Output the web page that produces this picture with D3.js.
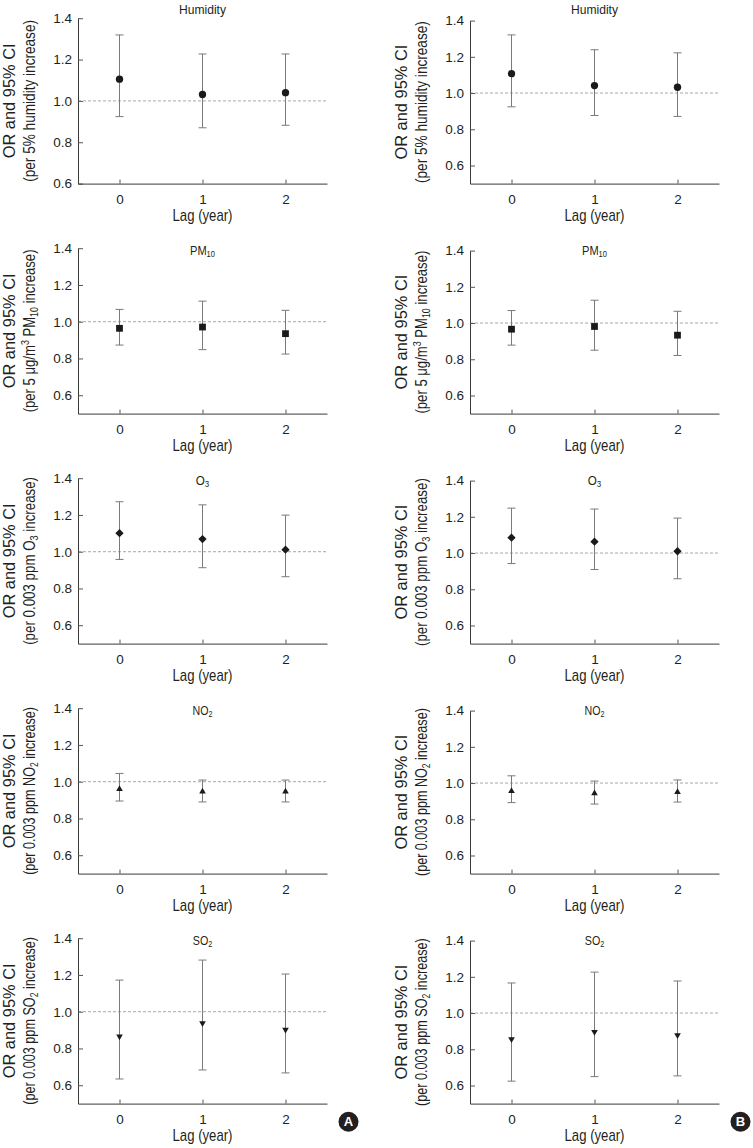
<!DOCTYPE html>
<html>
<head>
<meta charset="utf-8">
<script src="https://cdn.jsdelivr.net/npm/d3@7"></script>
<style>
  html, body { margin: 0; padding: 0; background: #fff; }
  svg { display: block; }
  text { font-family: "Liberation Sans", Arial, sans-serif; fill: #231f20; }
</style>
</head>
<body>
<svg id="chart" width="753" height="1148"></svg>
<script>
// ---------- data ----------
const lags = [0, 1, 2];
const tickValues = [0.6, 0.8, 1.0, 1.2, 1.4];
const xTickLabels = ["0", "1", "2"];
const xTitle = "Lag (year)";
const yTitleLine1 = "OR and 95% CI";
const panelLetters = ["A", "B"];

// titles: segments [text, kind] where kind = "n" normal, "sub", "sup"
const panelTitles = [
  [["Humidity", "n"]],
  [["PM", "n"], ["10", "sub"]],
  [["O", "n"], ["3", "sub"]],
  [["NO", "n"], ["2", "sub"]],
  [["SO", "n"], ["2", "sub"]]
];
const yTitleLine2 = [
  [["(per 5% humidity increase)", "n"]],
  [["(per 5 μg/m", "n"], ["3", "sup"], [" PM", "n"], ["10", "sub"], [" increase)", "n"]],
  [["(per 0.003 ppm O", "n"], ["3", "sub"], [" increase)", "n"]],
  [["(per 0.003 ppm NO", "n"], ["2", "sub"], [" increase)", "n"]],
  [["(per 0.003 ppm SO", "n"], ["2", "sub"], [" increase)", "n"]]
];

// Panel A
const orHumidityA = [1.105, 1.031, 1.040];
const loHumidityA = [0.924, 0.870, 0.882];
const hiHumidityA = [1.319, 1.227, 1.227];
const orPM10A = [0.964, 0.971, 0.935];
const loPM10A = [0.873, 0.848, 0.824];
const hiPM10A = [1.067, 1.112, 1.062];
const orO3A = [1.101, 1.069, 1.011];
const loO3A = [0.958, 0.913, 0.864];
const hiO3A = [1.272, 1.255, 1.199];
const orNO2A = [0.960, 0.946, 0.946];
const loNO2A = [0.895, 0.890, 0.890];
const hiNO2A = [1.045, 1.009, 1.009];
const orSO2A = [0.866, 0.938, 0.902];
const loSO2A = [0.634, 0.683, 0.667];
const hiSO2A = [1.172, 1.281, 1.205];

// Panel B
const orHumidityB = [1.107, 1.041, 1.032];
const loHumidityB = [0.924, 0.876, 0.871];
const hiHumidityB = [1.321, 1.239, 1.222];
const orPM10B = [0.966, 0.981, 0.933];
const loPM10B = [0.878, 0.850, 0.821];
const hiPM10B = [1.069, 1.126, 1.065];
const orO3B = [1.085, 1.063, 1.010];
const loO3B = [0.942, 0.909, 0.858];
const hiO3B = [1.248, 1.243, 1.193];
const orNO2B = [0.956, 0.943, 0.950];
const loNO2B = [0.892, 0.884, 0.895];
const hiNO2B = [1.040, 1.011, 1.017];
const orSO2B = [0.856, 0.896, 0.878];
const loSO2B = [0.624, 0.649, 0.653];
const hiSO2B = [1.166, 1.226, 1.177];

const seriesA = [
  [orHumidityA, loHumidityA, hiHumidityA],
  [orPM10A, loPM10A, hiPM10A],
  [orO3A, loO3A, hiO3A],
  [orNO2A, loNO2A, hiNO2A],
  [orSO2A, loSO2A, hiSO2A]
];
const seriesB = [
  [orHumidityB, loHumidityB, hiHumidityB],
  [orPM10B, loPM10B, hiPM10B],
  [orO3B, loO3B, hiO3B],
  [orNO2B, loNO2B, hiNO2B],
  [orSO2B, loSO2B, hiSO2B]
];

// ---------- layout ----------
const svg = d3.select("#chart");
const rowH = 230;
const plotW = 249;
const colX = [78, 470];
const colTop = [18.2, 20.6];
const plotBottom = 183.6;
const markerTypes = [d3.symbolCircle, d3.symbolSquare, d3.symbolDiamond2, d3.symbolTriangle, d3.symbolTriangle];
const markerSizes = [42, 46, 44, 19, 19];
const markerRot = [0, 0, 0, 0, 180];
const titleTargetW = [47, 25, 13.5, 20, 19.5];
const line2TargetW = [162, 163, 168, 168, 168];

function addSegments(textSel, segs, fs) {
  let pending = 0;
  segs.forEach(([t, kind]) => {
    const ts = textSel.append("tspan").text(t);
    if (kind === "n") {
      if (pending !== 0) { ts.attr("dy", -pending); pending = 0; }
    } else {
      const shift = kind === "sub" ? fs * 0.18 : -fs * 0.38;
      ts.attr("dy", shift - pending).attr("font-size", fs * 0.68);
      pending = shift;
    }
  });
}
function fit(sel, target, base) {
  const w = sel.node().getComputedTextLength();
  const k = target / w;
  sel.attr("transform", base + ` scale(${k},1)`);
}

for (let r = 0; r < 5; r++) {
  for (let c = 0; c < 2; c++) {
    const oy = r * rowH;
    const x0 = colX[c];
    const top = oy + colTop[c];
    const bottom = oy + plotBottom;
    const ydom = (c === 0 && r === 0) ? [0.6, 1.4] : [0.5, 1.4];
    const [orV, loV, hiV] = (c === 0 ? seriesA : seriesB)[r];

    const x = d3.scaleLinear().domain([-0.5, 2.5]).range([x0, x0 + plotW]);
    const y = d3.scaleLinear().domain(ydom).range([bottom, top]);
    const g = svg.append("g");

    // reference line at 1.0
    g.append("line")
      .attr("x1", x0).attr("x2", x0 + plotW)
      .attr("y1", y(1.0)).attr("y2", y(1.0))
      .attr("stroke", "#a8a8a8").attr("stroke-width", 1)
      .attr("stroke-dasharray", "3,2");

    // axes
    const yAxis = d3.axisLeft(y).tickValues(tickValues).tickFormat(d3.format(".1f"))
      .tickSizeInner(-5).tickSizeOuter(0).tickPadding(6);
    const ya = g.append("g").attr("transform", `translate(${x0},0)`).call(yAxis);
    const xAxis = d3.axisBottom(x).tickValues(lags).tickFormat((d, i) => xTickLabels[i])
      .tickSizeInner(-4).tickSizeOuter(0).tickPadding(11);
    const xa = g.append("g").attr("transform", `translate(0,${bottom})`).call(xAxis);
    [ya, xa].forEach(a => {
      a.select(".domain").attr("stroke", "#3a3a3a").attr("stroke-width", 1);
      a.selectAll(".tick line").attr("stroke", "#555");
      a.selectAll(".tick text").attr("font-size", 13.5)
        .attr("font-family", "Liberation Sans, Arial, sans-serif").attr("fill", "#231f20");
    });

    // error bars
    const cap = 4;
    const eb = g.append("g").attr("stroke", "#7a7a7a").attr("stroke-width", 1).attr("fill", "none");
    lags.forEach((L, i) => {
      const cx = x(L);
      eb.append("line").attr("x1", cx).attr("x2", cx).attr("y1", y(loV[i])).attr("y2", y(hiV[i]));
      eb.append("line").attr("x1", cx - cap).attr("x2", cx + cap).attr("y1", y(loV[i])).attr("y2", y(loV[i]));
      eb.append("line").attr("x1", cx - cap).attr("x2", cx + cap).attr("y1", y(hiV[i])).attr("y2", y(hiV[i]));
    });

    // markers
    const sym = d3.symbol().type(markerTypes[r]).size(markerSizes[r]);
    g.selectAll("path.mk").data(lags).enter().append("path").attr("class", "mk")
      .attr("d", sym)
      .attr("transform", (L, i) => `translate(${x(L)},${y(orV[i])}) rotate(${markerRot[r]})`)
      .attr("fill", "#1a1a1a");

    // panel title
    const tY = r === 0 ? oy + 14 : oy + 25;
    const cxMid = x0 + plotW / 2;
    const tt = g.append("text").attr("text-anchor", "middle").attr("font-size", 13.5);
    addSegments(tt, panelTitles[r], 13.5);
    fit(tt, titleTargetW[r], `translate(${cxMid},${tY})`);

    // x title
    const xt = g.append("text").attr("text-anchor", "middle").attr("font-size", 16).text(xTitle);
    fit(xt, 60, `translate(${cxMid},${oy + 220.7})`);

    // y title
    const cyMid = (top + bottom) / 2;
    const y1 = g.append("text").attr("text-anchor", "middle").attr("font-size", 16).text(yTitleLine1);
    fit(y1, 115, `translate(${x0 - 63},${cyMid}) rotate(-90)`);
    const y2 = g.append("text").attr("text-anchor", "middle").attr("font-size", 16);
    addSegments(y2, yTitleLine2[r], 16);
    fit(y2, line2TargetW[r], `translate(${x0 - 43},${cyMid}) rotate(-90)`);
  }
}

// panel letter badges
panelLetters.forEach((L, c) => {
  const cx = colX[c] + plotW + 21.5;
  const cy = 4 * rowH + 201.7;
  svg.append("circle").attr("cx", cx).attr("cy", cy).attr("r", 10).attr("fill", "#231f20");
  svg.append("text").attr("x", cx).attr("y", cy + 4.6).attr("text-anchor", "middle")
    .attr("font-size", 13).attr("font-weight", "bold").style("fill", "#fff").text(L);
});
</script>
</body>
</html>
